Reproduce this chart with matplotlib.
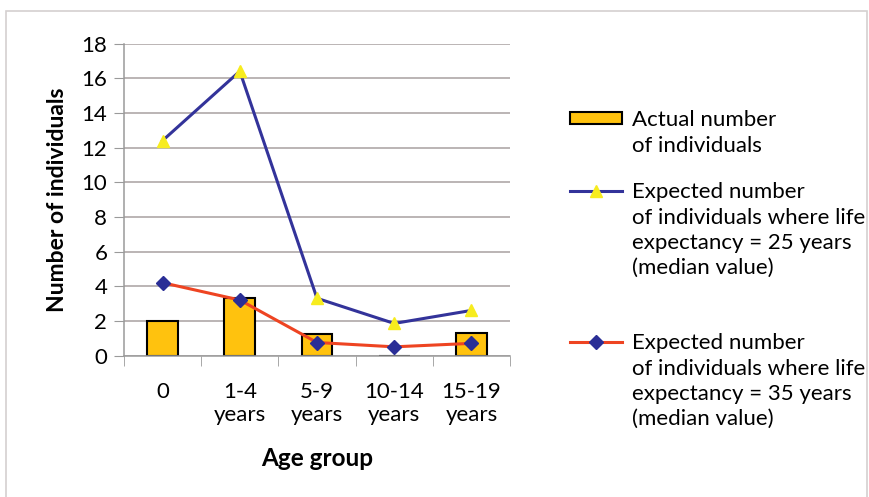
import numpy as np
import matplotlib.pyplot as plt
from matplotlib.patches import Rectangle

plt.rcParams['font.family'] = ['Lato', 'DejaVu Sans']

# Data
age_groups = ['0', '1-4\nyears', '5-9\nyears', '10-14\nyears', '15-19\nyears']
actual = [2.0, 3.3, 1.25, 0.0, 1.3]
expected_25 = [12.4, 16.4, 3.3, 1.85, 2.6]
expected_35 = [4.2, 3.2, 0.75, 0.5, 0.7]

labels = ['Actual number\nof individuals',
          'Expected number\nof individuals where life\nexpectancy = 25 years\n(median value)',
          'Expected number\nof individuals where life\nexpectancy = 35 years\n(median value)']

W, H = 870, 497
FS = 16
fig = plt.figure(figsize=(W / 100, H / 100), dpi=100)
ax = fig.add_axes([124 / W, 1 - 355.5 / H, (510 - 124) / W, (355.5 - 43.5) / H])

x = np.arange(len(age_groups))
bars = ax.bar(x, actual, width=0.4, color='#FFC20E', edgecolor='black', linewidth=1.5, zorder=2)
l25, = ax.plot(x, expected_25, color='#33339A', lw=2.2, marker='^', ms=9,
               mfc='#F7EC1E', mec='#F7EC1E', zorder=3)
l35, = ax.plot(x, expected_35, color='#EE4422', lw=2.2, marker='D', ms=7,
               mfc='#2A2E96', mec='#2A2E96', zorder=4)

ax.set_xlim(-0.5, len(age_groups) - 0.5)
ax.set_ylim(0, 18)
ax.set_yticks(range(0, 19, 2))
ax.tick_params(axis='y', labelsize=FS, length=7, color='#9a9a9a', pad=5)
ax.set_xticks(x)
ax.set_xticklabels(age_groups, fontsize=FS, linespacing=1.2)
ax.set_xticks(np.arange(-0.5, len(age_groups)), minor=True)
ax.tick_params(axis='x', which='major', length=0, pad=19)
ax.tick_params(axis='x', which='minor', length=7, color='#9a9a9a')
ax.grid(axis='y', color='#a8a0a0', lw=1.1, zorder=0)
ax.set_axisbelow(True)
for s in ['top', 'right']:
    ax.spines[s].set_visible(False)
for s in ['left', 'bottom']:
    ax.spines[s].set_color('#9a9a9a')
    ax.spines[s].set_linewidth(1.1)

ax.set_ylabel('Number of individuals', fontsize=16.5, fontweight='bold', labelpad=10)
ax.set_xlabel('Age group', fontsize=17.5, fontweight='bold', labelpad=16)

# Legend, one block per series; handle sits on the first line of its label
tops = [110, 182, 333]
legs = []
for h, lab, top in zip([bars, l25, l35], labels, tops):
    first = lab.split('\n')[0]
    leg = fig.legend(handles=[h], labels=[first], loc='upper left',
                     bbox_to_anchor=(570 / W, 1 - top / H), frameon=False,
                     fontsize=FS, handlelength=2.35, handleheight=0.5,
                     handletextpad=0.45, borderpad=0, borderaxespad=0)
    legs.append((leg, lab))

fig.canvas.draw()
for leg, lab in legs:
    rest = lab.split('\n', 1)[1]
    bb = leg.get_texts()[0].get_window_extent()
    fig.text(bb.x0 / W, (bb.y0 - 6) / H, rest, fontsize=FS, va='top', ha='left',
             linespacing=1.3)

# light frame around the chart
fig.patches.append(Rectangle((6 / W, -0.01), (867 - 6) / W, 1 - 11 / H + 0.01,
                             transform=fig.transFigure, fill=False,
                             edgecolor='#d4d0d0', lw=1.2))

fig.savefig('out.png', dpi=100)
